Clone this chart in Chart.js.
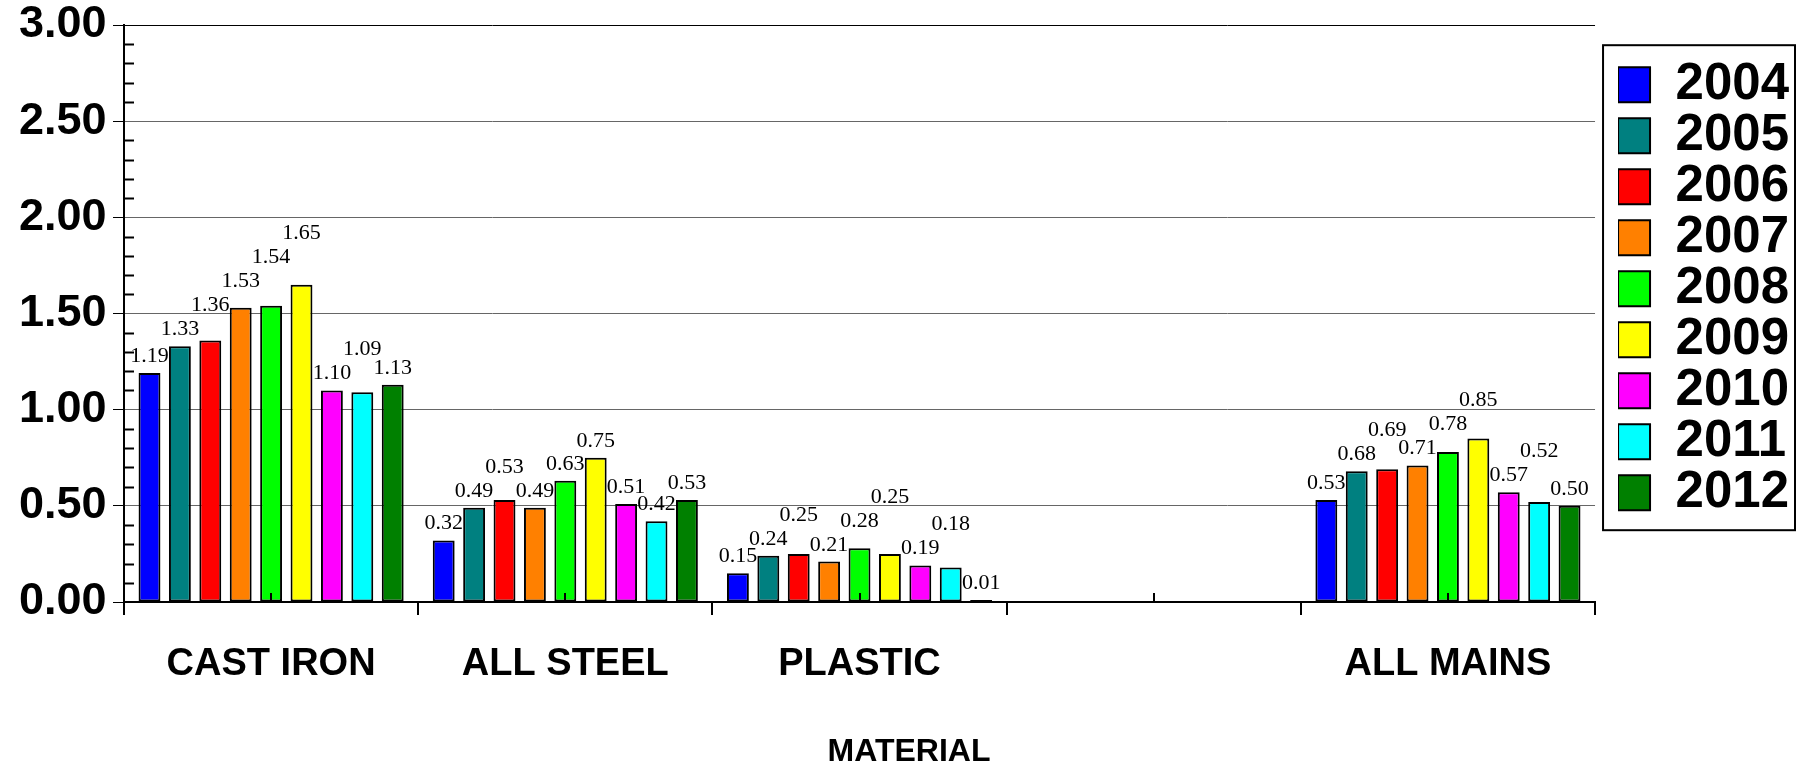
<!DOCTYPE html>
<html lang="en">
<head>
<meta charset="UTF-8">
<title>Leak Rate by Material</title>
<script src="https://cdn.jsdelivr.net/npm/chart.js"></script>
<style>
  html, body { margin: 0; padding: 0; background: #fff; }
</style>
</head>
<body>
<canvas id="chart" width="1799" height="763"></canvas>
<script>
// categories (the 4th slot is an empty gap in the original)
const materials = ['CAST IRON', 'ALL STEEL', 'PLASTIC', '', 'ALL MAINS'];
const years = ['2004', '2005', '2006', '2007', '2008', '2009', '2010', '2011', '2012'];
const yearColors = ['#0000ff', '#008080', '#ff0000', '#ff8000', '#00ff00', '#ffff00', '#ff00ff', '#00ffff', '#008000'];

// values per year: cast iron, all steel, plastic, (gap), all mains
const v2004 = [1.19, 0.32, 0.15, null, 0.53];
const v2005 = [1.33, 0.49, 0.24, null, 0.68];
const v2006 = [1.36, 0.53, 0.25, null, 0.69];
const v2007 = [1.53, 0.49, 0.21, null, 0.71];
const v2008 = [1.54, 0.63, 0.28, null, 0.78];
const v2009 = [1.65, 0.75, 0.25, null, 0.85];
const v2010 = [1.10, 0.51, 0.19, null, 0.57];
const v2011 = [1.09, 0.42, 0.18, null, 0.52];
const v2012 = [1.13, 0.53, 0.01, null, 0.50];
const seriesValues = [v2004, v2005, v2006, v2007, v2008, v2009, v2010, v2011, v2012];

const yTicks = [0, 0.5, 1, 1.5, 2, 2.5, 3];

Chart.defaults.color = '#000';
Chart.defaults.font.family = '"Liberation Sans", Arial, sans-serif';

// value labels, minor ticks and the legend frame
const extras = {
  id: 'extras',
  afterDatasetsDraw(chart) {
    const ctx = chart.ctx;
    ctx.save();
    ctx.font = '22px "Liberation Serif", "Times New Roman", serif';
    ctx.fillStyle = '#000';
    ctx.textAlign = 'center';
    ctx.textBaseline = 'alphabetic';
    materials.forEach((m, j) => {
      const placed = [];
      chart.data.datasets.forEach((ds, i) => {
        const v = ds.data[j];
        if (v == null) return;
        const bar = chart.getDatasetMeta(i).data[j];
        const text = v.toFixed(2);
        const w = ctx.measureText(text).width;
        const left = bar.x - w / 2, right = bar.x + w / 2;
        let base = bar.y - 11;
        let moved = true;
        while (moved) {
          moved = false;
          for (const p of placed) {
            if (left < p.right - 2 && right > p.left + 2 && base > p.base - 17 && base - 17 < p.base) {
              base = p.base - 24;
              moved = true;
            }
          }
        }
        placed.push({ left, right, base });
        ctx.fillText(text, bar.x, base);
      });
    });
    ctx.restore();
  },
  afterDraw(chart) {
    const ctx = chart.ctx;
    const y = chart.scales.y, x = chart.scales.x;
    ctx.save();
    ctx.strokeStyle = '#000';
    ctx.lineWidth = 2;
    // minor ticks on the inside of the value axis
    for (let k = 0; k <= 30; k++) {
      if (k % 5 === 0) continue;
      const py = Math.round(y.getPixelForValue(k / 10)) + 0.5;
      ctx.beginPath();
      ctx.moveTo(y.right, py);
      ctx.lineTo(y.right + 10, py);
      ctx.stroke();
    }
    // small ticks at category centres
    materials.forEach((m, j) => {
      const px = Math.round(x.getPixelForValue(j));
      ctx.beginPath();
      ctx.moveTo(px, x.top);
      ctx.lineTo(px, x.top - 9);
      ctx.stroke();
    });
    // frame round the legend
    const lg = chart.legend;
    const hb = lg.legendHitBoxes;
    const first = hb[0], last = hb[hb.length - 1];
    const top = first.top - 14;
    const bottom = last.top + last.height + 12;
    ctx.strokeRect(lg.left - 15, top, (lg.right - 4) - (lg.left - 15), bottom - top);
    ctx.restore();
  }
};

const ctx = document.getElementById('chart').getContext('2d');
new Chart(ctx, {
  type: 'bar',
  data: {
    labels: materials,
    datasets: years.map((yr, i) => ({
      label: yr,
      data: seriesValues[i],
      backgroundColor: yearColors[i],
      borderColor: '#000',
      borderWidth: 2,
      borderSkipped: false,
      barPercentage: 0.72,
      categoryPercentage: 0.93,
      yAxisID: 'y'
    }))
  },
  options: {
    responsive: false,
    animation: false,
    layout: { padding: { left: 19 } },
    plugins: {
      legend: {
        position: 'right',
        align: 'start',
        title: { display: true, text: '', font: { size: 1 }, padding: { top: 58, bottom: 0 } },
        labels: {
          boxWidth: 32,
          boxHeight: 35,
          padding: 0,
          color: '#000',
          font: { size: 51, weight: 'bold' }
        }
      },
      title: {
        display: true,
        position: 'bottom',
        text: 'MATERIAL',
        color: '#000',
        font: { size: 32, weight: 'bold', lineHeight: 0.7 },
        padding: { top: 26, bottom: 0 }
      },
      tooltip: { enabled: false }
    },
    scales: {
      x: {
        grid: { drawOnChartArea: false, drawTicks: true, tickLength: 13, tickColor: '#000', lineWidth: 2 },
        border: { display: true, color: '#000', width: 2 },
        ticks: {
          padding: 27,
          color: '#000',
          font: { size: 38, weight: 'bold' },
          maxRotation: 0,
          autoSkip: false
        }
      },
      y: {
        min: 0,
        max: 3,
        afterBuildTicks: s => { s.ticks = yTicks.map(v => ({ value: v })); },
        afterFit: s => { s.width = 105; },
        grid: {
          color: c => (c.tick && c.tick.value === 3 ? '#000' : '#666'),
          lineWidth: 1,
          tickLength: 11,
          tickColor: '#000'
        },
        border: { display: true, color: '#000', width: 2 },
        ticks: {
          padding: 7,
          crossAlign: 'far',
          color: '#000',
          font: { size: 45, weight: 'bold', lineHeight: 0.8 },
          callback: v => Number(v).toFixed(2)
        }
      },
      y2: {
        position: 'right',
        display: true,
        grid: { display: false, drawTicks: false },
        border: { display: false },
        ticks: { display: false },
        afterFit: s => { s.width = 23; }
      }
    }
  },
  plugins: [extras]
});
</script>
</body>
</html>
